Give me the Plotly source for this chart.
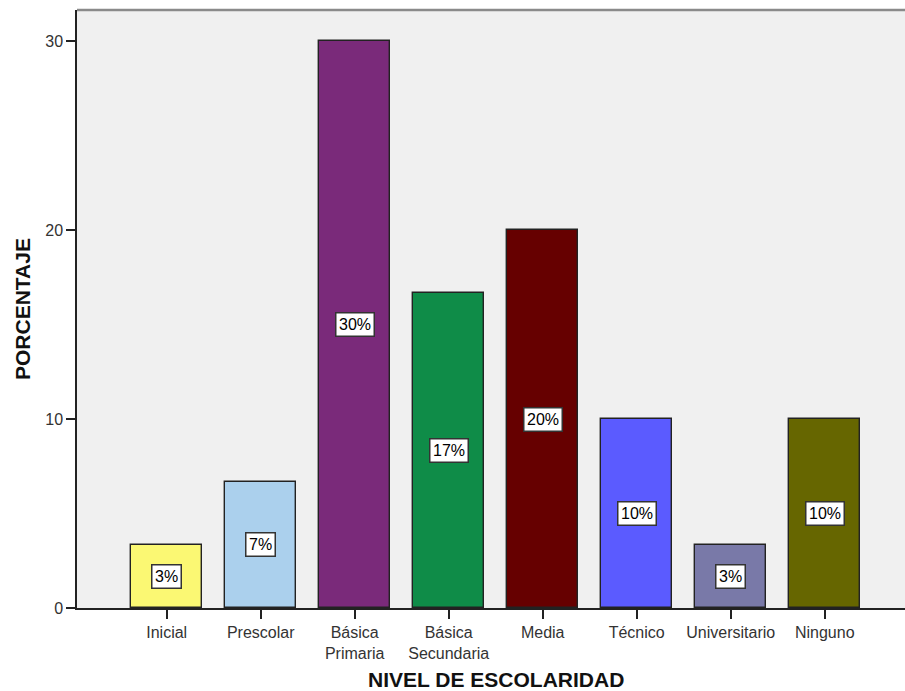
import plotly.graph_objects as go

categories = ["Inicial", "Prescolar", "Básica<br>Primaria", "Básica<br>Secundaria",
              "Media", "Técnico", "Universitario", "Ninguno"]
values = [3.33, 6.67, 30.0, 16.67, 20.0, 10.0, 3.33, 10.0]
labels = ["3%", "7%", "30%", "17%", "20%", "10%", "3%", "10%"]
colors = ["#fbf873", "#abd0ed", "#7a2a7a", "#0f8c48", "#660000",
          "#5b5bff", "#7979a8", "#666600"]
y_ticks = [0, 10, 20, 30]

font_family = "Liberation Sans, Arial, sans-serif"

fig = go.Figure()
fig.add_trace(go.Bar(
    x=list(range(len(categories))), y=values,
    marker=dict(color=colors, line=dict(color="#222222", width=1.4)),
    width=0.755, hoverinfo="skip",
))

for i, (v, lab) in enumerate(zip(values, labels)):
    fig.add_annotation(
        x=i, y=v / 2, text=lab, showarrow=False,
        font=dict(family=font_family, size=16, color="#000000"),
        bgcolor="#ffffff", bordercolor="#333333", borderwidth=1.5, borderpad=2.5,
    )

# axis titles
fig.add_annotation(xref="paper", yref="paper", x=0.5066, y=-0.12, yanchor="middle",
                   text="<b>NIVEL DE ESCOLARIDAD</b>", showarrow=False,
                   font=dict(family=font_family, size=21, color="#111111"))
fig.add_annotation(xref="paper", yref="paper", x=-0.0664, y=0.5, xanchor="center",
                   text="<b>PORCENTAJE</b>", showarrow=False, textangle=-90,
                   font=dict(family=font_family, size=21, color="#111111"))

# top border line
fig.add_shape(type="line", xref="paper", yref="paper", x0=0, x1=1, y0=1, y1=1,
              line=dict(color="#8a8a8a", width=2.5))

fig.update_layout(
    width=905, height=691,
    margin=dict(l=77, r=0, t=10, b=83),
    paper_bgcolor="#ffffff", plot_bgcolor="#f0f0f0",
    showlegend=False,
    font=dict(family=font_family, size=16, color="#333333"),
    bargap=0,
)
fig.update_xaxes(
    range=[-0.954, 7.854], automargin=False,
    tickmode="array", tickvals=list(range(len(categories))), ticktext=categories,
    ticks="outside", ticklen=9, tickcolor="#222222", tickwidth=1.5,
    showline=True, linecolor="#222222", linewidth=1.5,
    showgrid=False, zeroline=False,
    tickfont=dict(family=font_family, size=16, color="#333333"),
)
fig.update_yaxes(
    range=[0, 31.64], automargin=False,
    tickmode="array", tickvals=y_ticks,
    ticks="outside", ticklen=9, tickcolor="#222222", tickwidth=1.5,
    showline=True, linecolor="#222222", linewidth=1.5,
    showgrid=False, zeroline=False,
    tickfont=dict(family=font_family, size=16, color="#333333"),
)

fig.write_html("out.html", config={"displayModeBar": False},
               post_script="document.body.style.margin='0';document.body.style.overflow='hidden';")
